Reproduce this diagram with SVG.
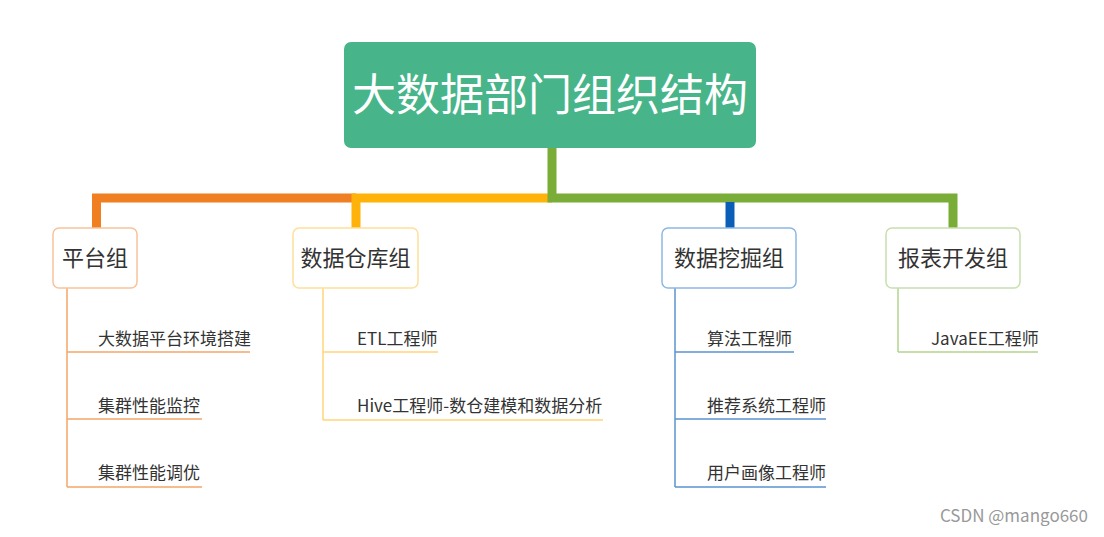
<svg xmlns="http://www.w3.org/2000/svg" width="1104" height="537" viewBox="0 0 1104 537">
<style>
text{font-family:"Noto Sans CJK SC","Noto Sans",sans-serif;fill:#333}
.g{font-size:22px}.i{font-size:17px}
.box{fill:#fff;stroke-width:1.5}
</style>
<rect width="1104" height="537" fill="#fff"/>
<g id="connectors" fill="none">
<path d="M96.5,228 V198 H356" stroke="#f07f21" stroke-width="9"/>
<path d="M356,228 V198 H552" stroke="#ffb20a" stroke-width="9"/>
<path d="M552,148 V198 H953 V228" stroke="#7aac38" stroke-width="9"/>
<path d="M730,202 V228" stroke="#0a5eb8" stroke-width="9"/>
<g stroke-width="1.5">
<path d="M67,288 V487 M67,352 H250 M67,419 H202 M67,487 H202" stroke="#f4a66a"/>
<path d="M323,288 V420 M323,352 H438 M323,420 H603" stroke="#ffd57a"/>
<path d="M675,288 V487 M675,352 H794 M675,419 H826 M675,487 H826" stroke="#5b93cf"/>
<path d="M898,288 V352 M898,352 H1038" stroke="#b3d48e"/>
</g>
</g>
<g id="root"><rect x="344" y="42" width="412" height="106" rx="7" fill="#47b489"/><text x="550" y="111" text-anchor="middle" style="font-size:44px;fill:#fff">大数据部门组织结构</text></g>
<g id="n1"><rect class="box" x="53" y="228" width="84" height="60" rx="6" stroke="#f8c29a"/><text class="g" x="95" y="266" text-anchor="middle">平台组</text></g>
<g id="n2"><rect class="box" x="293" y="228" width="125" height="60" rx="6" stroke="#ffe09a"/><text class="g" x="355.5" y="266" text-anchor="middle">数据仓库组</text></g>
<g id="n3"><rect class="box" x="662" y="228" width="134" height="60" rx="6" stroke="#8db8e4"/><text class="g" x="729" y="266" text-anchor="middle">数据挖掘组</text></g>
<g id="n4"><rect class="box" x="886" y="228" width="134" height="60" rx="6" stroke="#c8e0ae"/><text class="g" x="953" y="266" text-anchor="middle">报表开发组</text></g>
<g id="items" class="i">
<text class="i" x="98" y="345">大数据平台环境搭建</text>
<text class="i" x="98" y="412">集群性能监控</text>
<text class="i" x="98" y="479">集群性能调优</text>
<text class="i" x="357" y="345">ETL工程师</text>
<text class="i" x="357" y="412">Hive工程师-数仓建模和数据分析</text>
<text class="i" x="707" y="345">算法工程师</text>
<text class="i" x="707" y="412">推荐系统工程师</text>
<text class="i" x="707" y="479">用户画像工程师</text>
<text class="i" x="931" y="345">JavaEE工程师</text>
</g>
<text x="1088" y="522" text-anchor="end" style="font-size:17px;fill:#999">CSDN @mango660</text>
</svg>
